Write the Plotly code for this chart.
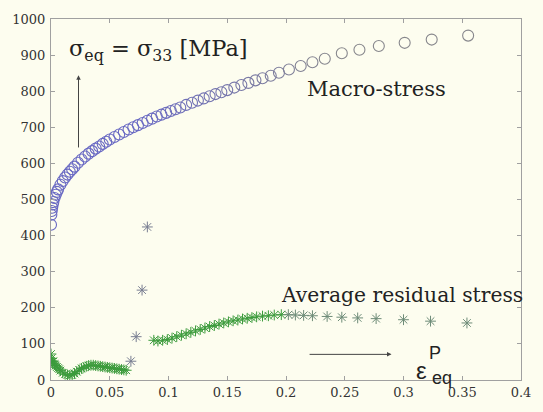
import plotly.graph_objects as go

# ---- data ----
macro_strain = [0, 0.0003, 0.0006, 0.001, 0.0015, 0.002, 0.003, 0.004, 0.005, 0.006, 0.008,
                0.010, 0.012, 0.014, 0.016, 0.018, 0.020, 0.023, 0.026, 0.029, 0.032, 0.035,
                0.038, 0.041, 0.044, 0.047, 0.050, 0.054, 0.058, 0.062, 0.066, 0.070, 0.074,
                0.078, 0.082, 0.086, 0.090, 0.094, 0.098, 0.102, 0.106, 0.110, 0.115, 0.120,
                0.125, 0.130, 0.135, 0.140, 0.145, 0.150, 0.156, 0.162, 0.168, 0.174, 0.180,
                0.187, 0.194, 0.2025, 0.2125, 0.2225, 0.233, 0.2475, 0.2625, 0.279, 0.301,
                0.324, 0.355]
macro_stress = [430, 458, 468, 477, 486, 493, 504, 513, 521, 528, 541,
                551, 561, 569, 577, 584, 591, 602, 611, 619, 627, 634,
                641, 647, 654, 660, 666, 673, 680, 687, 694, 700, 706,
                712, 718, 724, 730, 735, 740, 745, 750, 755, 762, 768,
                774, 780, 786, 792, 797, 803, 810, 817, 823, 830, 836,
                843, 851, 860, 870, 880, 890, 905, 915, 925, 934,
                943, 954]

resid_strain = [0, 0.0005, 0.001, 0.0015, 0.002, 0.003, 0.004, 0.005, 0.006, 0.007, 0.008,
                0.010, 0.012, 0.014, 0.016, 0.018, 0.020, 0.022, 0.024, 0.026, 0.028, 0.030,
                0.032, 0.034, 0.036, 0.038, 0.040, 0.042, 0.044, 0.046, 0.048, 0.050, 0.052,
                0.054, 0.056, 0.058, 0.060, 0.062, 0.064, 0.068, 0.0725, 0.0775, 0.082,
                0.0875, 0.091, 0.095, 0.099, 0.103, 0.107, 0.111, 0.115, 0.119, 0.123, 0.127,
                0.131, 0.135, 0.139, 0.143, 0.147, 0.151, 0.155, 0.159, 0.163, 0.167, 0.171,
                0.175, 0.180, 0.185, 0.190, 0.196, 0.202, 0.208, 0.215, 0.2225, 0.235,
                0.2475, 0.261, 0.2767, 0.300, 0.323, 0.354]
resid_stress = [72, 60, 50, 45, 52, 44, 40, 36, 33, 30, 26,
                20, 16, 14, 13, 14, 18, 23, 28, 32, 35, 38,
                40, 41, 41, 40, 39, 38, 37, 36, 35, 34, 33,
                32, 31, 30, 29, 28, 27, 52, 120, 249, 424,
                110, 108, 110, 112, 116, 120, 124, 128, 132, 136, 140,
                144, 148, 151, 155, 158, 161, 164, 166, 169, 171, 173,
                175, 177, 178, 180, 181, 181, 180, 179, 178, 176,
                174, 172, 170, 167, 163, 158]

x_ticks = [0, 0.05, 0.1, 0.15, 0.2, 0.25, 0.3, 0.35, 0.4]
x_tick_text = ["0", "0.05", "0.1", "0.15", "0.2", "0.25", "0.3", "0.35", "0.4"]
y_ticks = [0, 100, 200, 300, 400, 500, 600, 700, 800, 900, 1000]
y_tick_text = [str(v) for v in y_ticks]

# ---- styling helpers ----
def mix(c1, c2, t):
    return "rgb(%d,%d,%d)" % tuple(round(a + (b - a) * t) for a, b in zip(c1, c2))

circle_colors = [mix((105, 105, 195), (135, 135, 140), min(1.0, max(0.0, (x - 0.08) / 0.16)))
                 for x in macro_strain]

resid_colors = []
for x, y in zip(resid_strain, resid_stress):
    if 0.066 < x < 0.085:
        resid_colors.append("rgb(120,125,145)")
    elif x > 0.2:
        resid_colors.append("rgb(110,140,120)")
    else:
        resid_colors.append("rgb(60,155,60)")

BG = "#fdfdef"
SERIF = "DejaVu Serif"
SANS = "Liberation Sans"

fig = go.Figure()
fig.add_trace(go.Scatter(
    x=macro_strain, y=macro_stress, mode="markers",
    marker=dict(symbol="circle-open", size=11, color=circle_colors, line=dict(width=1.1)),
    showlegend=False, hoverinfo="skip"))
fig.add_trace(go.Scatter(
    x=resid_strain, y=resid_stress, mode="markers",
    marker=dict(symbol="asterisk-open", size=9, color=resid_colors,
                line=dict(width=1, color=resid_colors)),
    showlegend=False, hoverinfo="skip"))

axis_common = dict(showline=True, linecolor="#a0a0a0", linewidth=1, mirror="allticks",
                   ticks="inside", ticklen=4, tickcolor="#a0a0a0", showgrid=False,
                   zeroline=False, tickfont=dict(family=SERIF, size=13, color="#333333"))

fig.update_xaxes(range=[0, 0.4], tickvals=x_ticks, ticktext=x_tick_text, **axis_common)
fig.update_yaxes(range=[0, 1000], tickvals=y_ticks, ticktext=y_tick_text,
                 ticklabelstandoff=2, **axis_common)

annotations = [
    dict(x=0.0134, y=915, text="σ<sub>eq</sub> = σ<sub>33</sub> [MPa]", xanchor="left",
         yanchor="middle", showarrow=False, font=dict(family=SERIF, size=22.5, color="#222222")),
    dict(x=0.2163, y=807, text="Macro-stress", xanchor="left", yanchor="middle",
         showarrow=False, font=dict(family=SERIF, size=21, color="#222222")),
    dict(x=0.1937, y=235, text="Average residual stress", xanchor="left", yanchor="middle",
         showarrow=False, font=dict(family=SERIF, size=20.3, color="#222222")),
    dict(x=0.0234, y=844, ax=0.0234, ay=640, xref="x", yref="y", axref="x", ayref="y",
         text="", showarrow=True, arrowhead=2, arrowsize=0.9, arrowwidth=1,
         arrowcolor="#444444"),
    dict(x=0.2898, y=71, ax=0.2188, ay=71, xref="x", yref="y", axref="x", ayref="y",
         text="", showarrow=True, arrowhead=2, arrowsize=0.9, arrowwidth=1,
         arrowcolor="#444444"),
    dict(x=0.3155, y=26, text="ε", xanchor="center", yanchor="middle", showarrow=False,
         font=dict(family=SANS, size=24, color="#222222")),
    dict(x=0.3267, y=76, text="P", xanchor="center", yanchor="middle", showarrow=False,
         font=dict(family=SANS, size=18, color="#222222")),
    dict(x=0.3327, y=5, text="eq", xanchor="center", yanchor="middle", showarrow=False,
         font=dict(family=SANS, size=18, color="#222222")),
]

fig.update_layout(
    width=543, height=412,
    margin=dict(l=50, r=14, t=14, b=20),
    paper_bgcolor=BG, plot_bgcolor=BG,
    annotations=annotations,
)

fig.write_html("out.html")
